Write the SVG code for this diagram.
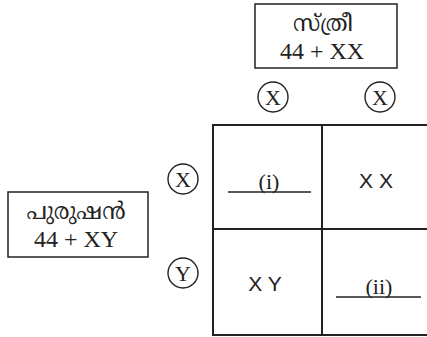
<svg xmlns="http://www.w3.org/2000/svg" width="427" height="337" viewBox="0 0 427 337">
<style>
.box{fill:none;stroke:#222;stroke-width:1.5}
.ln{stroke:#222;stroke-width:2;fill:none}
.ul{stroke:#222;stroke-width:1.5}
.cir{fill:none;stroke:#222;stroke-width:1.4}
.ml{font-family:"Noto Serif Malayalam","Noto Sans Malayalam","Noto Sans",serif;font-size:23px;fill:#222;text-anchor:middle}
.sf{font-family:"Liberation Serif","DejaVu Serif",serif;font-size:24px;fill:#222;text-anchor:middle}
.cs{font-family:"Liberation Serif","DejaVu Serif",serif;font-size:22px;fill:#222;text-anchor:middle}
.ss{font-family:"Liberation Sans","DejaVu Sans",sans-serif;font-size:21px;fill:#222;text-anchor:middle}
.cl{font-family:"Liberation Serif","DejaVu Serif",serif;font-size:22px;fill:#222;text-anchor:middle}
</style>
<rect width="427" height="337" fill="#fff"/>
<g id="female">
<rect class="box" x="255" y="4" width="142" height="64"/>
<text class="ml" x="323" y="31">സ്ത്രീ</text>
<text class="sf" x="322" y="59">44 + XX</text>
</g>
<g id="male">
<rect class="box" x="8" y="192" width="140" height="65"/>
<text class="ml" x="76" y="219">പുരുഷൻ</text>
<text class="sf" x="76" y="247">44 + XY</text>
</g>
<g id="gamete-f1"><circle class="cir" cx="273" cy="97" r="15"/><text class="cl" x="273" y="105">X</text></g>
<g id="gamete-f2"><circle class="cir" cx="380" cy="97" r="15"/><text class="cl" x="380" y="105">X</text></g>
<g id="gamete-m1"><circle class="cir" cx="183" cy="179" r="15"/><text class="cl" x="183" y="187">X</text></g>
<g id="gamete-m2"><circle class="cir" cx="183" cy="273" r="15"/><text class="cl" x="183" y="281">Y</text></g>
<g id="grid">
<path class="ln" d="M427 125 H213 V335 H427 M322 125 V335 M213 229 H427"/>
</g>
<g id="cell-i"><text class="cs" x="269" y="189">(i)</text><line class="ul" x1="228" y1="192" x2="311" y2="192"/></g>
<g id="cell-xx"><text class="ss" x="376" y="188">X X</text></g>
<g id="cell-xy"><text class="ss" x="265" y="291">X Y</text></g>
<g id="cell-ii"><text class="cs" x="379" y="294">(ii)</text><line class="ul" x1="336" y1="297" x2="421" y2="297"/></g>
<g id="connectors"></g>
</svg>
